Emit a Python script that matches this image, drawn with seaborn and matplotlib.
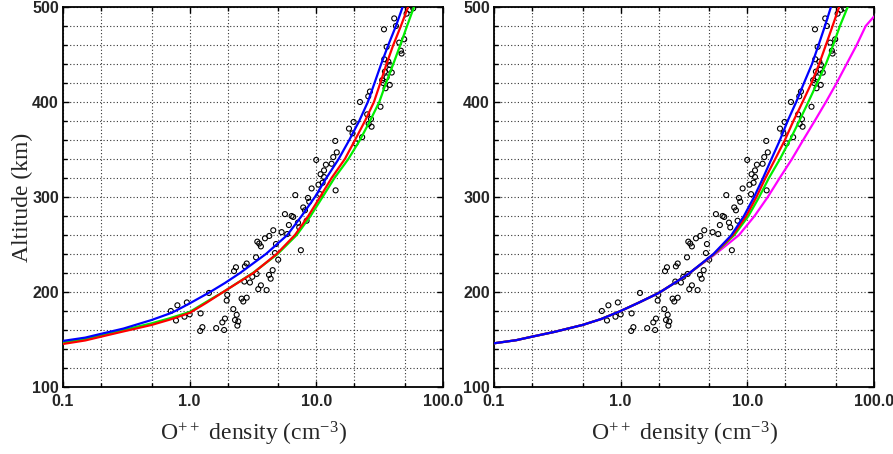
"""
O++ density vs altitude: observations and model profiles (two panels)
"""

import matplotlib
matplotlib.use("Agg")
import matplotlib.pyplot as plt
import matplotlib.ticker as mticker
import pandas as pd
import seaborn as sns

# -----------------------------
# Data
# -----------------------------
# observed points, shared by both panels
obs_density = [
    0.71, 0.78, 0.80, 0.91, 0.95, 1.0, 1.22, 1.21, 1.26, 1.42,
    1.62, 1.81, 1.87, 1.90, 1.96, 1.98, 2.21, 2.24, 2.28, 2.32,
    2.35, 2.38, 2.42, 2.57, 2.65, 2.73, 2.82, 2.82, 2.70, 2.99,
    3.12, 3.34, 3.38, 3.42, 3.54, 3.65, 3.48, 3.65, 4.05, 3.93,
    4.25, 4.23, 4.36, 4.52, 4.57, 4.71, 4.80, 5.0, 5.32, 5.65,
    5.89, 6.38, 6.57, 6.82, 7.16, 7.33, 7.55, 7.88, 8.13, 8.38,
    8.59, 8.79, 9.18, 9.98, 10.4, 10.7, 10.8, 11.2, 11.5, 11.5,
    11.9, 13.2, 13.6, 14.1, 14.2, 14.5, 18.1, 19.3, 19.7, 20.4,
    22.1, 23.0, 25.2, 25.9, 27.0, 27.3, 32.1, 26.5, 25.7, 34.2,
    35.9, 34.4, 37.0, 38.1, 37.7, 34.8, 33.1, 33.7, 42.5, 41.2,
    45.1, 46.5, 49.4, 51.6, 58.2, 47.1, 38.0, 35.2, 39.4, 35.9,
    54.8, 6.07,
]
obs_altitude = [
    180, 170, 186, 174, 189, 176.5, 177.5, 159, 163, 199,
    162, 168, 160, 172, 191, 197, 182, 222, 170.5, 226,
    176, 164.6, 169, 193, 190, 227, 230, 194, 211, 210,
    216, 236.5, 219, 253, 251, 248, 203, 207, 202, 256.5,
    259, 218, 214, 223, 265, 241, 250.5, 234, 263, 282,
    261, 280, 279, 302, 273, 268, 244, 289, 286, 275,
    299, 295, 309, 339, 313, 303, 324, 315, 321, 328,
    334, 335, 342, 359, 307, 347, 372, 367, 379, 356.5,
    400, 363, 387, 377, 382, 374, 395, 411, 406, 476.5,
    458, 445, 442.5, 439, 434, 432, 423, 420, 480, 488,
    462.5, 454, 466, 493, 498.6, 451, 418, 414.5, 431, 426,
    497, 270.5,
]

# model profiles, left panel
left_blue_alt = [148.5, 152, 156, 161.5, 170.5, 177.5, 180, 188, 200, 209.5,
                 220, 240, 260, 280, 300, 320, 340, 360, 380, 400,
                 420, 440, 460, 480, 500]
left_blue_n = [0.1, 0.15, 0.2, 0.3, 0.5, 0.7, 0.77, 1.0, 1.45, 1.9,
               2.5, 4.0, 5.9, 7.65, 9.75, 12.0, 15.0, 18.2, 21.8, 25.5,
               28.8, 32.5, 37.0, 42.5, 48.0]

left_red_alt = [145.3, 149, 153, 158.5, 165.3, 171, 178, 188.5, 200, 220,
                240, 260, 280, 300, 320, 340, 360, 380, 400, 420,
                440, 460, 480, 500]
left_red_n = [0.1, 0.15, 0.2, 0.3, 0.5, 0.7, 1.0, 1.35, 1.84, 3.18,
              4.86, 6.78, 8.64, 10.7, 13.2, 16.8, 20.2, 24.2, 28.5, 32.0,
              35.8, 40.5, 46.5, 53.0]

left_green_alt = [147, 150.5, 154.5, 160, 167, 172.5, 179, 189.5, 200, 220,
                  240, 260, 280, 300, 320, 340, 360, 380, 400, 420,
                  440, 460, 480, 500]
left_green_n = [0.1, 0.15, 0.2, 0.3, 0.5, 0.7, 1.0, 1.35, 1.84, 3.15,
                4.95, 7.0, 9.0, 11.2, 13.9, 17.9, 22.1, 26.5, 31.4, 35.5,
                40.5, 46.0, 52.0, 59.0]

# model profiles, right panel
right_alt = [146, 149.3, 153, 158, 165.3, 171.5, 180, 189, 199, 210,
             220, 240, 260, 280, 300, 320, 340, 360, 380, 400,
             420, 440, 460, 480, 500]
right_blue_n = [0.1, 0.15, 0.2, 0.3, 0.5, 0.7, 1.0, 1.4, 2.0, 2.7,
                3.5, 5.4, 7.5, 9.4, 11.3, 13.3, 15.5, 18.1, 20.8, 24.3,
                28.0, 32.4, 36.5, 41.0, 45.7]
right_red_n = [0.1, 0.15, 0.2, 0.3, 0.5, 0.7, 1.0, 1.4, 2.0, 2.7,
               3.5, 5.45, 7.7, 9.8, 11.8, 13.9, 16.6, 19.8, 23.1, 27.3,
               32.1, 36.9, 41.7, 47.1, 53.0]
right_green_n = [0.1, 0.15, 0.2, 0.3, 0.5, 0.7, 1.0, 1.4, 2.0, 2.7,
                 3.5, 5.5, 7.9, 10.2, 12.4, 14.8, 18.1, 21.7, 25.7, 30.3,
                 35.6, 41.7, 47.6, 53.8, 62.0]
magenta_alt = [146, 149.3, 153, 158, 165.3, 171.5, 180, 189, 199, 210,
               220, 240, 260, 280, 300, 320, 340, 360, 380, 400,
               420, 440, 460, 480, 490]
magenta_n = [0.1, 0.15, 0.2, 0.3, 0.5, 0.7, 1.0, 1.4, 2.0, 2.7,
             3.5, 5.6, 8.6, 11.4, 14.5, 18.0, 22.5, 27.6, 34.0, 41.7,
             50.7, 60.8, 73.0, 86.0, 100.0]

x_ticks = [0.1, 1.0, 10.0, 100.0]
x_tick_labels = ["0.1", "1.0", "10.0", "100.0"]
x_minor = [0.2, 0.5, 2, 5, 20, 50]
y_ticks = [100, 200, 300, 400, 500]

# -----------------------------
# Style
# -----------------------------
sns.set_theme(style="white")
plt.rcParams["font.family"] = ["Liberation Serif", "DejaVu Serif"]
plt.rcParams["mathtext.default"] = "regular"

COLORS = {"blue": "#0000ff", "red": "#ff0000", "green": "#00ee00", "magenta": "#ff00ff"}


def profile(n, alt):
    return pd.DataFrame({"density": n, "altitude": alt})


def draw_panel(ax, curves, show_ylabel):
    obs = pd.DataFrame({"density": obs_density, "altitude": obs_altitude})
    sns.scatterplot(data=obs, x="density", y="altitude", ax=ax, marker="o",
                    s=13, facecolor="none", edgecolor="black", linewidth=0.8,
                    zorder=3)
    for n, alt, color in curves:
        sns.lineplot(data=profile(n, alt), x="density", y="altitude", ax=ax,
                     sort=False, estimator=None, color=COLORS[color],
                     linewidth=1.6, zorder=4)

    ax.set_xscale("log")
    ax.set_xlim(0.1, 100)
    ax.set_ylim(100, 500)

    ax.xaxis.set_major_locator(mticker.FixedLocator(x_ticks))
    ax.xaxis.set_major_formatter(mticker.FixedFormatter(x_tick_labels))
    ax.xaxis.set_minor_locator(mticker.FixedLocator(x_minor))
    ax.xaxis.set_minor_formatter(mticker.NullFormatter())
    ax.yaxis.set_major_locator(mticker.FixedLocator(y_ticks))
    ax.yaxis.set_minor_locator(mticker.MultipleLocator(20))

    ax.grid(True, which="both", color="#333333", linestyle=(0, (1, 2)),
            linewidth=0.8)
    ax.tick_params(which="both", direction="in", top=True, right=True,
                   bottom=True, left=True, color="black")
    ax.tick_params(which="major", length=4, width=1)
    ax.tick_params(which="minor", length=3, width=1)
    ax.tick_params(axis="x", pad=5)
    ax.tick_params(axis="y", pad=3)
    for lab in ax.get_xticklabels() + ax.get_yticklabels():
        lab.set_fontfamily("Liberation Sans")
        lab.set_fontweight("bold")
        lab.set_fontsize(11.5)
    for spine in ax.spines.values():
        spine.set_color("black")
        spine.set_linewidth(1.3)

    ax.set_xlabel(r"O$^{++}$ density (cm$^{-3}$)", fontsize=17)
    ax.xaxis.set_label_coords(0.5, -0.085)
    if show_ylabel:
        ax.set_ylabel("Altitude (km)", fontsize=17)
        ax.yaxis.set_label_coords(-0.08, 0.5)
    else:
        ax.set_ylabel("")


fig = plt.figure(figsize=(8.93, 4.54), dpi=100)
ax_left = fig.add_axes([63 / 893, 67 / 454, 380 / 893, 380 / 454])
ax_right = fig.add_axes([494 / 893, 67 / 454, 380 / 893, 380 / 454])

draw_panel(ax_left, [
    (left_green_n, left_green_alt, "green"),
    (left_red_n, left_red_alt, "red"),
    (left_blue_n, left_blue_alt, "blue"),
], show_ylabel=True)

draw_panel(ax_right, [
    (magenta_n, magenta_alt, "magenta"),
    (right_green_n, right_alt, "green"),
    (right_red_n, right_alt, "red"),
    (right_blue_n, right_alt, "blue"),
], show_ylabel=False)

fig.savefig("out.png", dpi=100, facecolor="white")
